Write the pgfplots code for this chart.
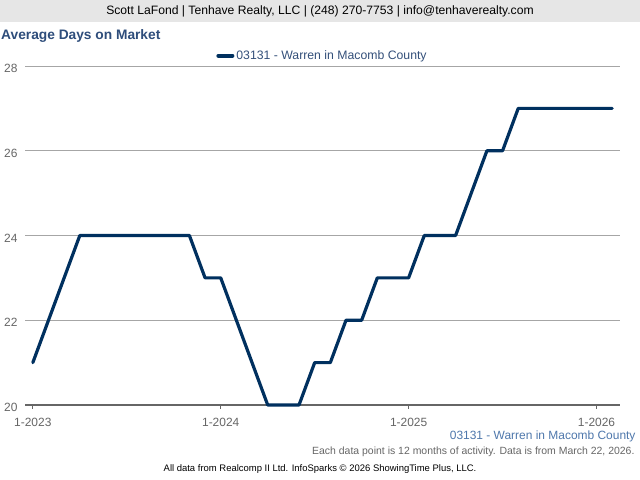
\documentclass[border=0pt]{standalone}
\usepackage{fontspec}
\setmainfont{Liberation Sans}
\usepackage{pgfplots}
\pgfplotsset{compat=1.18}
\definecolor{navy}{HTML}{00305F}
\definecolor{hdr}{HTML}{E6E6E6}
\definecolor{titleblue}{HTML}{2E4D7B}
\definecolor{legblue}{HTML}{34507A}
\definecolor{serblue}{HTML}{4F78AC}
\definecolor{tickgray}{HTML}{666666}
\begin{document}
\begin{tikzpicture}[x=1bp,y=1bp]
\useasboundingbox (0,0) rectangle (640,480);
\fill[white] (0,0) rectangle (640,480);
\fill[hdr] (0,458) rectangle (640,480);
\node[font=\fontsize{12.2}{14}\selectfont, text=black] at (320,469) {Scott LaFond | Tenhave Realty, LLC | (248) 270-7753 | info@tenhaverealty.com};
\node[anchor=west, inner sep=1bp, font=\fontsize{13.8}{16}\selectfont\bfseries, text=titleblue] at (0,444) {Average Days on Market};
\begin{axis}[
  at={(25bp,75bp)}, anchor=south west,
  scale only axis, width=595bp, height=339bp,
  xmin=-0.5, xmax=37.5, ymin=20, ymax=28,
  ytick={20,22,24,26,28},
  xtick={0,12,24,36},
  xticklabels={1-2023,1-2024,1-2025,1-2026},
  axis x line=bottom, axis y line=left,
  x axis line style={-, draw=tickgray, line width=1.6bp},
  y axis line style={draw=none},
  xtick pos=bottom, ytick pos=left, tick align=outside,
  major tick length=4bp,
  x tick style={draw=tickgray, line width=1bp},
  y tick style={draw=none},
  ymajorgrids, grid style={draw=black!35, line width=0.8bp},
  /pgf/number format/assume math mode=true,
  tick label style={font=\fontsize{12}{14}\selectfont, text=tickgray},
  xticklabel style={yshift=-6bp},
  yticklabel style={xshift=0bp, yshift=-2.5bp},
  clip=false,
  legend style={at={(rel axis cs:0.5,1)}, anchor=south, yshift=2bp, draw=none, fill=none,
    font=\fontsize{12.3}{14}\selectfont, text=legblue, inner sep=1bp},
  legend image code/.code={\draw[navy, line width=4bp] (0bp,0bp) -- (14bp,0bp);},
]
\addplot[navy, line width=3.2bp, line join=round, line cap=round] coordinates {
(0,21) (1,22) (2,23) (3,24) (4,24) (5,24) (6,24) (7,24) (8,24) (9,24) (10,24)
(11,23) (12,23) (13,22) (14,21) (15,20) (16,20) (17,20)
(18,21) (19,21) (20,22) (21,22) (22,23) (23,23) (24,23)
(25,24) (26,24) (27,24) (28,25) (29,26) (30,26)
(31,27) (32,27) (33,27) (34,27) (35,27) (36,27) (37,27)
};
\addlegendentry{03131 - Warren in Macomb County}
\end{axis}
\node[anchor=east, font=\fontsize{12}{14}\selectfont, text=serblue] at (639,43.5) {03131 - Warren in Macomb County};
\node[anchor=east, font=\fontsize{10.5}{12}\selectfont, text=tickgray] at (638,28.5) {Each data point is 12 months of activity. Data is from March 22, 2026.};
\node[font=\fontsize{9.5}{11}\selectfont, text=black] at (320,11) {All data from Realcomp II Ltd. InfoSparks © 2026 ShowingTime Plus, LLC.};
\end{tikzpicture}
\end{document}
